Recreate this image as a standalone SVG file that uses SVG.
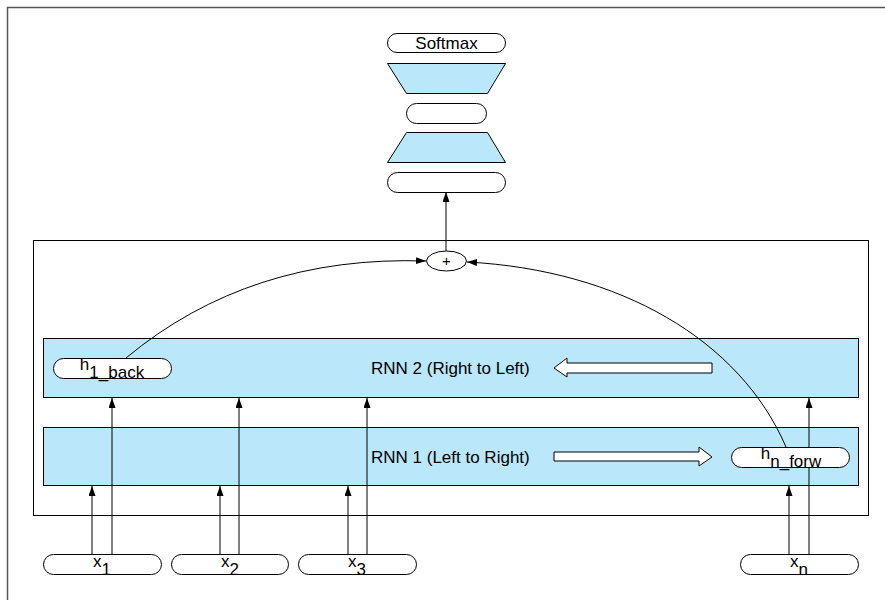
<svg xmlns="http://www.w3.org/2000/svg" width="885" height="600" viewBox="0 0 885 600">
<defs>
<style>
.pill{fill:#fff;stroke:#000;stroke-width:1}
.band{fill:#bbe7fb;stroke:#000;stroke-width:1}
.trap{fill:#bbe7fb;stroke:#000;stroke-width:1}
.ln{fill:none;stroke:#000;stroke-width:1}
.big{fill:#fff;stroke:#000;stroke-width:1}
text{font-family:"Liberation Sans",Arial,sans-serif;font-size:17px;fill:#000}
</style>
<marker id="ah" markerUnits="userSpaceOnUse" markerWidth="10" markerHeight="8" refX="10" refY="3.5" orient="auto">
<path d="M0,0 L10,3.5 L0,7 z" fill="#000"/>
</marker>
</defs>
<rect width="885" height="600" fill="#fff"/>
<path d="M7.5,600 V7.5 H885" fill="none" stroke="#555" stroke-width="1.5"/>

<g id="outer"><rect x="33.5" y="240.5" width="835" height="275" fill="#fff" stroke="#000"/></g>

<g id="rnn2">
<rect class="band" x="43.5" y="338.5" width="815" height="59"/>
<text x="371" y="374">RNN 2 (Right to Left)</text>
<path class="big" d="M712,363 H567 V358 L554,368 L567,377 V373 H712 z"/>
</g>
<g id="rnn1">
<rect class="band" x="43.5" y="427.5" width="815" height="58"/>
<text x="371" y="463">RNN 1 (Left to Right)</text>
<path class="big" d="M554,452 H699 V447 L712,457 L699,466 V461 H554 z"/>
</g>

<g id="connectors">
<line class="ln" x1="92" y1="554" x2="92" y2="486" marker-end="url(#ah)"/>
<line class="ln" x1="112" y1="554" x2="112" y2="398" marker-end="url(#ah)"/>
<line class="ln" x1="220" y1="554" x2="220" y2="486" marker-end="url(#ah)"/>
<line class="ln" x1="239" y1="554" x2="239" y2="398" marker-end="url(#ah)"/>
<line class="ln" x1="348" y1="554" x2="348" y2="486" marker-end="url(#ah)"/>
<line class="ln" x1="367" y1="554" x2="367" y2="398" marker-end="url(#ah)"/>
<line class="ln" x1="789" y1="554" x2="789" y2="486" marker-end="url(#ah)"/>
<line class="ln" x1="809" y1="554" x2="809" y2="398" marker-end="url(#ah)"/>
<path class="ln" d="M126,358 Q250,255 426,261" marker-end="url(#ah)"/>
<path class="ln" d="M786,447 C740,340 620,270 467,262" marker-end="url(#ah)"/>
<line class="ln" x1="446" y1="251" x2="446" y2="192" marker-end="url(#ah)"/>
</g>

<g id="h1back"><rect class="pill" x="53.5" y="358.5" width="118" height="20" rx="10"/>
<text x="112" y="370" text-anchor="middle">h<tspan dy="8">1_back</tspan></text></g>
<g id="hnforw"><rect class="pill" x="731.5" y="447.5" width="118" height="20" rx="10"/>
<text x="791" y="459" text-anchor="middle">h<tspan dy="8">n_forw</tspan></text></g>

<g id="plus"><ellipse cx="446.5" cy="261" rx="20" ry="10" fill="#fff" stroke="#000"/>
<text x="446.5" y="266" text-anchor="middle" style="font-size:15px">+</text></g>

<g id="softmax"><rect class="pill" x="387.5" y="33.5" width="118" height="19" rx="9.5"/>
<text x="446.5" y="49" text-anchor="middle">Softmax</text></g>
<g id="dense2"><path class="trap" d="M387.5,63.5 H505.5 L487.5,93.5 H406.5 z"/></g>
<g id="mid"><rect class="pill" x="406.5" y="103.5" width="80" height="20" rx="10"/></g>
<g id="dense1"><path class="trap" d="M406.5,132.5 H487.5 L505.5,162.5 H387.5 z"/></g>
<g id="concat"><rect class="pill" x="387.5" y="172.5" width="118" height="20" rx="10"/></g>

<g id="x1"><rect class="pill" x="43.5" y="554.5" width="118" height="20" rx="10"/>
<text x="102" y="567" text-anchor="middle">x<tspan dy="8">1</tspan></text></g>
<g id="x2"><rect class="pill" x="171.5" y="554.5" width="117" height="20" rx="10"/>
<text x="230" y="567" text-anchor="middle">x<tspan dy="8">2</tspan></text></g>
<g id="x3"><rect class="pill" x="298.5" y="554.5" width="118" height="20" rx="10"/>
<text x="357" y="567" text-anchor="middle">x<tspan dy="8">3</tspan></text></g>
<g id="xn"><rect class="pill" x="740.5" y="554.5" width="118" height="20" rx="10"/>
<text x="799" y="567" text-anchor="middle">x<tspan dy="8">n</tspan></text></g>
</svg>
